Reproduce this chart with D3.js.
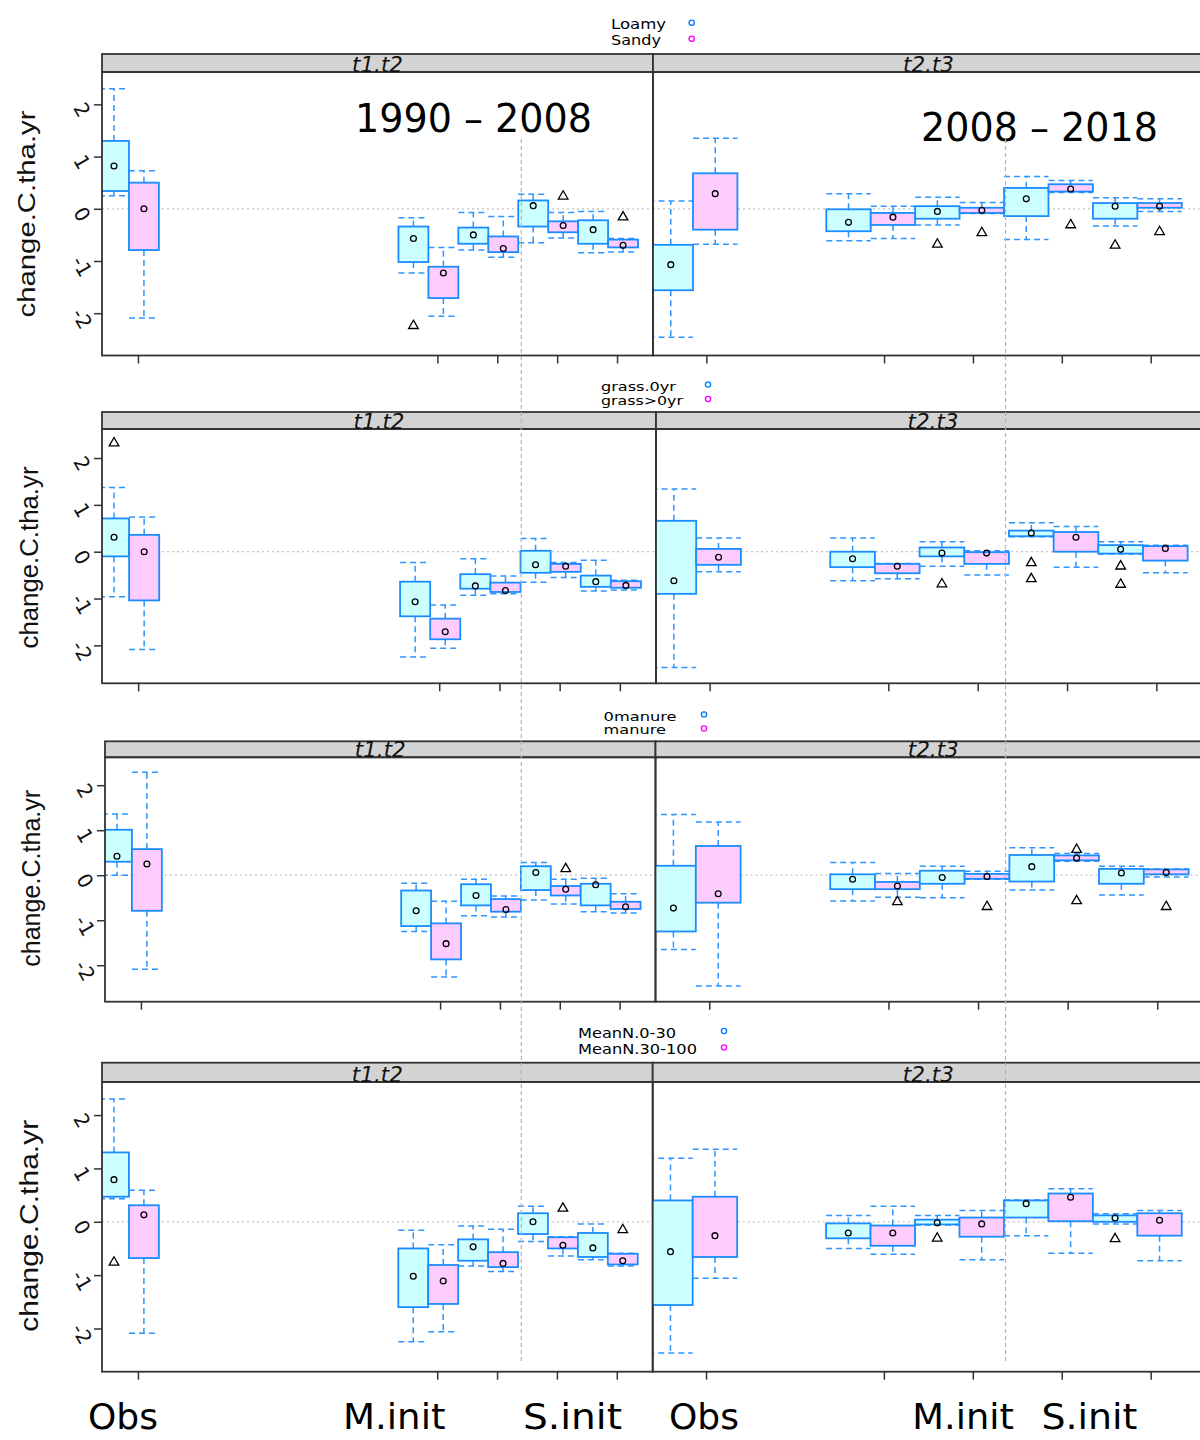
<!DOCTYPE html>
<html><head><meta charset="utf-8">
<script src="https://cdn.jsdelivr.net/npm/d3@7"></script>
<style>body{margin:0;background:#fff} svg{display:block;background:#fff}</style>
</head><body>
<svg id="chart" width="1200" height="1440"></svg>
<script>
// ================= DATA =================
const stripLabels = ["t1.t2", "t2.t3"];
const periodLabels = ["1990 – 2008", "2008 – 2018"];
const xLabels = ["Obs", "M.init", "S.init"];
const yTicks = [-2, -1, 0, 1, 2];
const yLabel = "change.C.tha.yr";
const leftLevels = [1, 6, 7, 8, 9];   // Obs, then model runs (t1.t2)
const rightLevels = [1, 3, 4, 5, 6];  // Obs, then model runs (t2.t3)

const soilGroups = ["Loamy", "Sandy"];
const grassGroups = ["grass.0yr", "grass>0yr"];
const manureGroups = ["0manure", "manure"];
const meanNGroups = ["MeanN.0-30", "MeanN.30-100"];

// box stats: [lower whisker, Q1, centre, Q3, upper whisker]; each level: [group1, group2]
const soilT1T2 = [
  [[0.25, 0.34, 0.82, 1.30, 2.30], [-2.09, -0.79, 0.00, 0.50, 0.73]],
  [[-1.23, -1.02, -0.57, -0.34, -0.17], [-2.06, -1.71, -1.23, -1.11, -0.74]],
  [[-0.79, -0.67, -0.50, -0.36, -0.07], [-0.93, -0.83, -0.76, -0.53, -0.15]],
  [[-0.65, -0.34, 0.06, 0.16, 0.28], [-0.56, -0.45, -0.32, -0.24, -0.07]],
  [[-0.84, -0.67, -0.40, -0.22, -0.05], [-0.83, -0.74, -0.70, -0.59, -0.57]]
];
const soilT1T2Out = [[1, 0, -2.24], [3, 1, 0.24], [4, 1, -0.16]];
const soilT2T3 = [
  [[-2.46, -1.56, -1.07, -0.69, 0.15], [-0.68, -0.40, 0.29, 0.68, 1.35]],
  [[-0.61, -0.43, -0.26, -0.01, 0.29], [-0.57, -0.31, -0.16, -0.08, 0.05]],
  [[-0.31, -0.19, -0.05, 0.05, 0.22], [-0.09, -0.08, -0.03, 0.02, 0.12]],
  [[-0.59, -0.14, 0.19, 0.40, 0.62], [0.31, 0.33, 0.38, 0.47, 0.54]],
  [[-0.33, -0.19, 0.05, 0.11, 0.21], [-0.05, 0.02, 0.05, 0.11, 0.19]]
];
const soilT2T3Out = [[2, 0, -0.68], [2, 1, -0.46], [3, 1, -0.31], [4, 0, -0.70], [4, 1, -0.44]];

const grassT1T2 = [
  [[-0.96, -0.10, 0.31, 0.71, 1.37], [-2.09, -1.04, 0.00, 0.36, 0.74]],
  [[-2.25, -1.38, -1.07, -0.64, -0.23], [-2.06, -1.87, -1.71, -1.43, -1.14]],
  [[-0.93, -0.79, -0.73, -0.48, -0.15], [-0.90, -0.86, -0.83, -0.66, -0.52]],
  [[-0.65, -0.45, -0.28, 0.02, 0.28], [-0.55, -0.43, -0.31, -0.26, -0.23]],
  [[-0.84, -0.75, -0.64, -0.51, -0.18], [-0.82, -0.77, -0.72, -0.63, -0.61]]
];
const grassT1T2Out = [[0, 0, 2.32]];
const grassT2T3 = [
  [[-2.47, -0.90, -0.62, 0.66, 1.34], [-0.43, -0.28, -0.12, 0.06, 0.29]],
  [[-0.62, -0.33, -0.15, 0.00, 0.29], [-0.58, -0.46, -0.31, -0.26, -0.25]],
  [[-0.31, -0.10, -0.03, 0.09, 0.21], [-0.50, -0.26, -0.03, -0.01, 0.02]],
  [[0.32, 0.33, 0.40, 0.45, 0.62], [-0.33, 0.00, 0.31, 0.42, 0.54]],
  [[-0.05, -0.04, 0.05, 0.14, 0.21], [-0.45, -0.19, 0.07, 0.12, 0.14]]
];
const grassT2T3Out = [[2, 0, -0.69], [3, 0, -0.24], [3, 0, -0.58], [4, 0, -0.31], [4, 0, -0.70]];

const manureT1T2 = [
  [[0.00, 0.30, 0.42, 1.01, 1.36], [-2.09, -0.79, 0.25, 0.58, 2.29]],
  [[-1.25, -1.13, -0.79, -0.34, -0.18], [-2.26, -1.87, -1.52, -1.07, -0.58]],
  [[-0.90, -0.67, -0.45, -0.20, -0.09], [-0.93, -0.81, -0.76, -0.53, -0.46]],
  [[-0.55, -0.33, 0.06, 0.20, 0.28], [-0.64, -0.45, -0.31, -0.24, -0.09]],
  [[-0.81, -0.67, -0.21, -0.19, -0.07], [-0.84, -0.75, -0.70, -0.59, -0.41]]
];
const manureT1T2Out = [[3, 1, 0.14]];
const manureT2T3 = [
  [[-1.65, -1.25, -0.73, 0.21, 1.35], [-2.46, -0.61, -0.41, 0.65, 1.18]],
  [[-0.57, -0.31, -0.09, 0.02, 0.28], [-0.49, -0.31, -0.24, -0.15, 0.04]],
  [[-0.50, -0.19, -0.05, 0.10, 0.20], [-0.09, -0.08, -0.03, 0.03, 0.09]],
  [[-0.33, -0.14, 0.19, 0.45, 0.61], [0.31, 0.33, 0.38, 0.44, 0.48]],
  [[-0.44, -0.19, 0.05, 0.14, 0.20], [-0.04, 0.02, 0.06, 0.13, 0.14]]
];
const manureT2T3Out = [[1, 1, -0.59], [2, 1, -0.70], [3, 1, 0.57], [3, 1, -0.57], [4, 1, -0.70]];

const meanNT1T2 = [
  [[0.43, 0.47, 0.79, 1.30, 2.30], [-2.09, -0.68, 0.13, 0.31, 0.59]],
  [[-2.25, -1.60, -1.02, -0.50, -0.16], [-2.06, -1.54, -1.11, -0.81, -0.43]],
  [[-0.83, -0.73, -0.47, -0.33, -0.08], [-0.93, -0.85, -0.78, -0.57, -0.14]],
  [[-0.37, -0.23, 0.00, 0.16, 0.29], [-0.64, -0.50, -0.44, -0.29, -0.28]],
  [[-0.71, -0.66, -0.49, -0.21, -0.04], [-0.83, -0.80, -0.73, -0.60, -0.59]]
];
const meanNT1T2Out = [[0, 0, -0.76], [3, 1, 0.25], [4, 1, -0.15]];
const meanNT2T3 = [
  [[-2.46, -1.56, -0.56, 0.40, 1.19], [-1.06, -0.66, -0.26, 0.47, 1.36]],
  [[-0.50, -0.31, -0.21, -0.03, 0.12], [-0.61, -0.45, -0.21, -0.07, 0.29]],
  [[-0.06, -0.05, -0.02, 0.04, 0.12], [-0.71, -0.28, -0.04, 0.08, 0.21]],
  [[-0.26, 0.08, 0.34, 0.40, 0.41], [-0.59, 0.01, 0.46, 0.53, 0.62]],
  [[-0.04, 0.00, 0.07, 0.12, 0.15], [-0.73, -0.26, 0.03, 0.16, 0.21]]
];
const meanNT2T3Out = [[2, 0, -0.31], [4, 0, -0.32]];

const rowsData = [
  {groups: soilGroups, left: soilT1T2, leftOut: soilT1T2Out, right: soilT2T3, rightOut: soilT2T3Out},
  {groups: grassGroups, left: grassT1T2, leftOut: grassT1T2Out, right: grassT2T3, rightOut: grassT2T3Out},
  {groups: manureGroups, left: manureT1T2, leftOut: manureT1T2Out, right: manureT2T3, rightOut: manureT2T3Out},
  {groups: meanNGroups, left: meanNT1T2, leftOut: meanNT1T2Out, right: meanNT2T3, rightOut: meanNT2T3Out}
];

// ================= LAYOUT / STYLE =================
const layout = [
  {legX: 611, legY: [29, 45.3], legW: [55, 50], legFs: 14.5, circX: 691.7, circY: [22.7, 38.7],
   stripTop: 54, top: 72, bottom: 355.5, left: 102, divider: 653, right: 1204,
   ylabX: 27, ylabY: 214, ylabFs: 23.5, ylabLen: 207},
  {legX: 601, legY: [390.5, 404.5], legW: [75, 82], legFs: 12.5, circX: 708, circY: [384.5, 399],
   stripTop: 412, top: 429, bottom: 683.3, left: 102, divider: 656, right: 1210,
   ylabX: 29, ylabY: 557.5, ylabFs: 26, ylabLen: 182},
  {legX: 603.6, legY: [720.7, 734], legW: [73, 62.5], legFs: 12.5, circX: 704, circY: [714.5, 728.5],
   stripTop: 741.3, top: 757.3, bottom: 1001.7, left: 105, divider: 655.5, right: 1211,
   ylabX: 31, ylabY: 878.3, ylabFs: 26, ylabLen: 177},
  {legX: 578, legY: [1038.3, 1054], legW: [98, 119], legFs: 13.5, circX: 724, circY: [1031, 1047.5],
   stripTop: 1062.7, top: 1082, bottom: 1371.7, left: 102, divider: 652.7, right: 1204,
   ylabX: 29, ylabY: 1225.8, ylabFs: 26.5, ylabLen: 212}
];
const yDomain = [-2.81, 2.62];
const groupOffset = [-0.4, 0.1];
const halfBox = 0.25;
const fills = ["#ccffff", "#ffccff"];
const legendCol = ["#0080ff", "#ff00ff"];
const boxStroke = "#1a8cff";
const dashStroke = "#2e95ff";
const frame = "#333333";
const FONT = "'DejaVu Sans', Verdana, sans-serif";

const svg = d3.select("#chart");
svg.append("rect").attr("width", 1200).attr("height", 1440).attr("fill", "#fff");
const defs = svg.append("defs");

function drawPanel(g, xs, ys, levels, data, outs, x0, x1, top, bottom, clipId) {
  defs.append("clipPath").attr("id", clipId).append("rect")
    .attr("x", x0).attr("y", top).attr("width", x1 - x0).attr("height", bottom - top);
  const pg = g.append("g").attr("clip-path", `url(#${clipId})`);
  pg.append("line").attr("x1", x0).attr("x2", x1).attr("y1", ys(0)).attr("y2", ys(0))
    .attr("stroke", "#c4c4c4").attr("stroke-width", 1.2).attr("stroke-dasharray", "2,3");
  levels.forEach((lev, li) => {
    data[li].forEach((s, gi) => {
      const c = lev + groupOffset[gi];
      const xa = xs(c - halfBox), xb = xs(c + halfBox), xc = xs(c);
      const [lo, q1, md, q3, hi] = s;
      [[q3, hi], [q1, lo]].forEach(([a, b]) => {
        pg.append("line").attr("x1", xc).attr("x2", xc).attr("y1", ys(a)).attr("y2", ys(b))
          .attr("stroke", dashStroke).attr("stroke-width", 1.5).attr("stroke-dasharray", "6,4");
        pg.append("line").attr("x1", xa).attr("x2", xb).attr("y1", ys(b)).attr("y2", ys(b))
          .attr("stroke", dashStroke).attr("stroke-width", 1.5).attr("stroke-dasharray", "6,4");
      });
      pg.append("rect").attr("x", xa).attr("y", ys(q3)).attr("width", xb - xa)
        .attr("height", Math.max(ys(q1) - ys(q3), 1))
        .attr("fill", fills[gi]).attr("stroke", boxStroke).attr("stroke-width", 1.8);
      pg.append("circle").attr("cx", xc).attr("cy", ys(md)).attr("r", 2.9)
        .attr("fill", "none").attr("stroke", "#000").attr("stroke-width", 1.3);
    });
  });
  outs.forEach(([li, gi, v]) => {
    const c = levels[li] + groupOffset[gi];
    pg.append("path").attr("d", d3.symbol(d3.symbolTriangle, 40)())
      .attr("transform", `translate(${xs(c)},${ys(v)})`)
      .attr("fill", "none").attr("stroke", "#000").attr("stroke-width", 1.3);
  });
  const ax = g.append("g").attr("transform", `translate(0,${bottom})`)
    .call(d3.axisBottom(xs).tickValues(levels).tickSize(8).tickFormat(""));
  ax.select(".domain").remove();
  ax.selectAll("line").attr("stroke", frame).attr("stroke-width", 1.5);
  g.append("rect").attr("x", x0).attr("y", top).attr("width", x1 - x0).attr("height", bottom - top)
    .attr("fill", "none").attr("stroke", frame).attr("stroke-width", 1.8);
}

rowsData.forEach((rd, i) => {
  const L = layout[i];
  const g = svg.append("g");
  const ys = d3.scaleLinear().domain(yDomain).range([L.bottom, L.top]);
  const xL = d3.scaleLinear().domain([0.4, 9.6]).range([L.left, L.divider]);
  const xR = d3.scaleLinear().domain([0.4, 6.6]).range([L.divider, L.right]);

  rd.groups.forEach((name, gi) => {
    g.append("text").attr("x", L.legX).attr("y", L.legY[gi])
      .attr("font-family", FONT).attr("font-size", L.legFs).attr("fill", "#000")
      .attr("textLength", L.legW[gi]).attr("lengthAdjust", "spacingAndGlyphs").text(name);
    g.append("circle").attr("cx", L.circX).attr("cy", L.circY[gi]).attr("r", 2.6)
      .attr("fill", "none").attr("stroke", legendCol[gi]).attr("stroke-width", 1.4);
  });

  const strips = [[L.left, L.divider], [L.divider, L.right]];
  strips.forEach(([a, b]) => {
    g.append("rect").attr("x", a).attr("y", L.stripTop).attr("width", b - a).attr("height", L.top - L.stripTop)
      .attr("fill", "#d3d3d3").attr("stroke", frame).attr("stroke-width", 1.8);
  });

  drawPanel(g, xL, ys, leftLevels, rd.left, rd.leftOut, L.left, L.divider, L.top, L.bottom, "clipL" + i);
  drawPanel(g, xR, ys, rightLevels, rd.right, rd.rightOut, L.divider, L.right, L.top, L.bottom, "clipR" + i);

  strips.forEach(([a, b], pi) => {
    g.append("text").attr("x", (a + b) / 2).attr("y", L.top - 0.5).attr("text-anchor", "middle")
      .attr("font-family", FONT).attr("font-style", "italic").attr("font-size", 21).attr("fill", "#111")
      .attr("textLength", 51).attr("lengthAdjust", "spacingAndGlyphs").text(stripLabels[pi]);
  });

  const ay = g.append("g").attr("transform", `translate(${L.left},0)`)
    .call(d3.axisLeft(ys).tickValues(yTicks).tickSize(8).tickFormat(d => String(d)));
  ay.select(".domain").remove();
  ay.selectAll("line").attr("stroke", frame).attr("stroke-width", 1.5);
  ay.selectAll("text").attr("x", null).attr("dy", null)
    .attr("text-anchor", "middle").attr("dominant-baseline", "central")
    .attr("transform", "translate(-20,5) rotate(60)")
    .attr("font-family", FONT).attr("font-size", 20).attr("fill", "#111");

  g.append("text").attr("transform", `translate(${L.ylabX},${L.ylabY}) rotate(-90)`)
    .attr("text-anchor", "middle").attr("dominant-baseline", "central")
    .attr("font-family", "'Liberation Sans', Arial, sans-serif").attr("font-size", L.ylabFs).attr("fill", "#111")
    .attr("textLength", L.ylabLen).attr("lengthAdjust", "spacingAndGlyphs").text(yLabel);
});

const periodPos = [[355, 131.7], [921, 140.5]];
periodLabels.forEach((t, i) => {
  svg.append("text").attr("x", periodPos[i][0]).attr("y", periodPos[i][1])
    .attr("font-family", FONT).attr("font-size", 39).attr("fill", "#000")
    .attr("textLength", 237).attr("lengthAdjust", "spacingAndGlyphs").text(t);
});

[521.3, 1005.5].forEach(x => {
  svg.append("line").attr("x1", x).attr("x2", x).attr("y1", 139).attr("y2", 1364)
    .attr("stroke", "#b3b3b3").attr("stroke-width", 1.2).attr("stroke-dasharray", "4,3");
});

const bottomPos = [[88, 70], [343, 102.5], [523, 99], [669, 70], [912.3, 101.5], [1041.4, 96]];
bottomPos.forEach(([x, w], i) => {
  svg.append("text").attr("x", x).attr("y", 1429)
    .attr("font-family", FONT).attr("font-size", 36).attr("fill", "#000")
    .attr("textLength", w).attr("lengthAdjust", "spacingAndGlyphs").text(xLabels[i % 3]);
});
</script>
</body></html>
